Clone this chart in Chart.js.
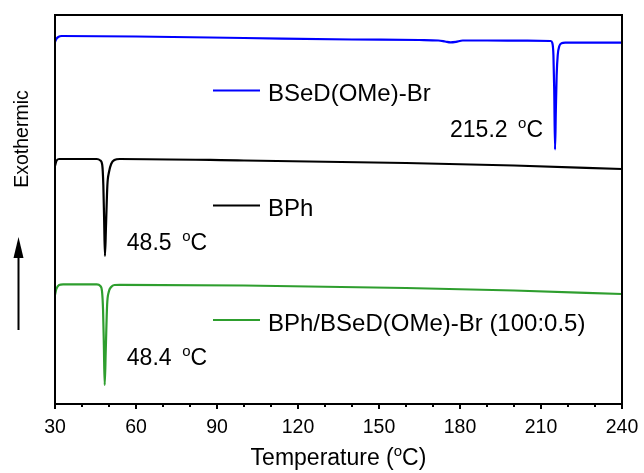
<!DOCTYPE html>
<html>
<head>
<meta charset="utf-8">
<script src="https://cdn.jsdelivr.net/npm/chart.js@4.4.1/dist/chart.umd.min.js"></script>
<style>
  html, body { margin: 0; padding: 0; background: #ffffff; }
  #wrap { width: 644px; height: 473px; position: relative; }
</style>
</head>
<body>
<div id="wrap"><canvas id="dsc"></canvas></div>
<script>
// DSC heating traces, heat flow in arbitrary units (curves offset vertically)
const bsedT  = [30, 30.5, 31.2, 32.5, 60, 100, 140, 165, 172, 174.5, 176.5, 178.5, 181, 190, 205, 213.6, 214.2, 214.6, 214.9, 215.2, 215.5, 215.8, 216.2, 216.8, 217.6, 219, 240];
const bsedHF = [93.06, 93.83, 94.34, 94.60, 94.47, 94.09, 93.70, 93.57, 93.44, 93.19, 92.98, 93.11, 93.44, 93.44, 93.39, 93.32, 92.80, 89.72, 80.72, 65.42, 75.58, 84.58, 89.72, 92.03, 92.72, 92.88, 92.88];

const bphT  = [30, 30.5, 31.5, 45.5, 46.8, 47.5, 47.9, 48.2, 48.5, 48.9, 49.4, 50.0, 50.8, 52.0, 54, 100, 160, 200, 240];
const bphHF = [61.18, 62.47, 62.98, 62.98, 62.60, 61.44, 56.30, 47.30, 38.05, 46.02, 56.30, 59.64, 61.70, 62.72, 62.98, 62.60, 61.95, 61.31, 60.41];

const mixT  = [30, 30.5, 31.5, 33, 45.5, 46.8, 47.4, 47.8, 48.1, 48.4, 48.8, 49.3, 49.9, 50.8, 52.0, 54, 100, 160, 200, 240];
const mixHF = [28.02, 29.56, 30.59, 30.77, 30.77, 30.33, 29.05, 24.16, 15.17, 4.88, 13.88, 25.45, 28.79, 30.08, 30.59, 30.64, 30.46, 29.82, 29.18, 28.28];

const seriesNames  = ['BSeD(OMe)-Br', 'BPh', 'BPh/BSeD(OMe)-Br (100:0.5)'];
const seriesColors = ['#0000FF', '#000000', '#2E9E2E'];
const peakTemps    = [215.2, 48.5, 48.4];

const xTickLabels = [30, 60, 90, 120, 150, 180, 210, 240];
const xMinorStep = 10;

const FONT = "'Liberation Sans', Arial, sans-serif";

function pairs(xs, ys) { return xs.map((x, i) => ({ x: x, y: ys[i] })); }

// text with a raised, smaller "o" (degree style used in the labels)
function drawSupText(ctx, parts, x, y, size, align) {
  const supSize = Math.round(size * 0.66);
  let total = 0;
  const widths = parts.map(p => {
    ctx.font = (p[1] ? supSize : size) + 'px ' + FONT;
    const w = ctx.measureText(p[0]).width;
    total += w;
    return w;
  });
  let cx = align === 'center' ? x - total / 2 : (align === 'right' ? x - total : x);
  ctx.textAlign = 'left';
  ctx.textBaseline = 'alphabetic';
  parts.forEach((p, i) => {
    ctx.font = (p[1] ? supSize : size) + 'px ' + FONT;
    ctx.fillText(p[0], cx, p[1] ? y - size * 0.4 : y);
    cx += widths[i];
  });
}

// annotation anchors in data coordinates (left edge / baseline of text)
const peakLabelAnchors = [
  { t: 176.3, v: 68.7 },
  { t: 56.6,  v: 39.6 },
  { t: 56.6,  v: 10.0 }
];

const decorations = {
  id: 'decorations',
  afterDraw(chart) {
    const ctx = chart.ctx;
    const area = chart.chartArea;
    const xs = chart.scales.x;
    const ys = chart.scales.y;
    ctx.save();
    ctx.fillStyle = '#000';
    ctx.strokeStyle = '#000';

    // frame
    ctx.lineWidth = 2;
    ctx.strokeRect(area.left, area.top, area.right - area.left, area.bottom - area.top);

    // bottom ticks: long at labelled values, short in between
    ctx.lineWidth = 2;
    for (let v = xs.min; v <= xs.max + 1e-9; v += xMinorStep) {
      const px = Math.round(xs.getPixelForValue(v));
      const major = xTickLabels.includes(v);
      ctx.beginPath();
      ctx.moveTo(px, area.bottom);
      ctx.lineTo(px, area.bottom + (major ? 5 : 3));
      ctx.stroke();
    }

    // x axis title
    drawSupText(ctx, [['Temperature (', 0], ['o', 1], ['C)', 0]],
      (area.left + area.right) / 2, 465, 23, 'center');

    // y axis title with arrow
    ctx.save();
    ctx.translate(28, 139);
    ctx.rotate(-Math.PI / 2);
    ctx.font = '19.5px ' + FONT;
    ctx.textAlign = 'center';
    ctx.textBaseline = 'alphabetic';
    ctx.fillText('Exothermic', 0, 0);
    ctx.restore();

    ctx.lineWidth = 2;
    ctx.beginPath();
    ctx.moveTo(18.5, 330);
    ctx.lineTo(18.5, 252);
    ctx.stroke();
    ctx.beginPath();
    ctx.moveTo(18.5, 237);
    ctx.lineTo(13.5, 258);
    ctx.lineTo(23.5, 258);
    ctx.closePath();
    ctx.fill();

    // in-plot legend
    const legendY = [90.5, 205.5, 320];
    seriesNames.forEach((name, i) => {
      ctx.strokeStyle = seriesColors[i];
      ctx.lineWidth = 2;
      ctx.beginPath();
      ctx.moveTo(213, legendY[i]);
      ctx.lineTo(260, legendY[i]);
      ctx.stroke();
      ctx.fillStyle = '#000';
      ctx.font = '24px ' + FONT;
      ctx.textAlign = 'left';
      ctx.textBaseline = 'alphabetic';
      ctx.fillText(name, 268, legendY[i] + 10.5);
    });

    // peak temperature labels
    ctx.fillStyle = '#000';
    peakTemps.forEach((t, i) => {
      const a = peakLabelAnchors[i];
      drawSupText(ctx, [[t.toFixed(1) + ' ', 0], [' o', 1], ['C', 0]],
        xs.getPixelForValue(a.t), ys.getPixelForValue(a.v), 23, 'left');
    });

    ctx.restore();
  }
};

const datasets = [
  { label: seriesNames[0], data: pairs(bsedT, bsedHF) },
  { label: seriesNames[1], data: pairs(bphT, bphHF) },
  { label: seriesNames[2], data: pairs(mixT, mixHF) }
].map((d, i) => Object.assign(d, {
  borderColor: seriesColors[i],
  backgroundColor: seriesColors[i],
  borderWidth: 2.2,
  pointRadius: 0,
  fill: false,
  cubicInterpolationMode: 'monotone'
}));

new Chart(document.getElementById('dsc'), {
  type: 'line',
  data: { datasets: datasets },
  plugins: [decorations],
  options: {
    responsive: true,
    maintainAspectRatio: false,
    animation: false,
    devicePixelRatio: 1,
    layout: { padding: { left: 55, right: 22, top: 15, bottom: 0 } },
    plugins: { legend: { display: false }, tooltip: { enabled: false } },
    scales: {
      x: {
        type: 'linear',
        min: 30,
        max: 240,
        afterBuildTicks(scale) { scale.ticks = xTickLabels.map(v => ({ value: v })); },
        afterFit(scale) {
          scale.height = 69;
          scale.paddingLeft = 0;
          scale.paddingRight = 0;
        },
        grid: { display: false, drawTicks: false },
        border: { display: false },
        ticks: {
          color: '#000',
          padding: 12,
          maxRotation: 0,
          autoSkip: false,
          font: { family: FONT, size: 19.5 }
        }
      },
      y: {
        display: false,
        min: 0,
        max: 100
      }
    }
  }
});
</script>
</body>
</html>
